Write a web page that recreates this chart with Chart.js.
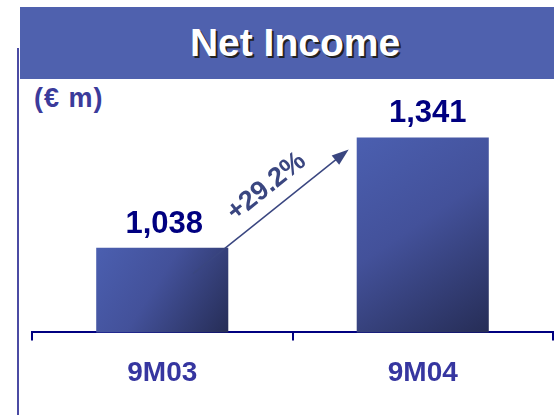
<!DOCTYPE html>
<html>
<head>
<meta charset="utf-8">
<script src="https://cdn.jsdelivr.net/npm/chart.js@4.4.1/dist/chart.umd.min.js"></script>
<style>
  body { margin: 0; background: #fff; }
  #wrap { position: relative; width: 554px; height: 415px; overflow: hidden; font-family: "Liberation Sans", Arial, sans-serif; }
  #banner { position: absolute; left: 20px; top: 7px; width: 534px; height: 72px; background: #4f61ae;
    color: #fff; font-weight: bold; font-size: 39px; text-align: center; line-height: 72px; text-indent: 16px;
    text-shadow: 2px 2px 0 #222; }
  #vline { position: absolute; left: 17px; top: 48px; width: 2px; height: 367px; background: #4b4ba3; }
  #unit { position: absolute; left: 34px; top: 83px; font-weight: bold; font-size: 27px; letter-spacing: 1px; color: #3b3b9b; }
  canvas { position: absolute; left: 0; top: 0; }
</style>
</head>
<body>
<div id="wrap">
  <div id="vline"></div>
  <div id="banner">Net Income</div>
  <div id="unit">(€ m)</div>
  <canvas id="chart" width="554" height="415"></canvas>
</div>
<script>
// data
const periods = ["9M03", "9M04"];
const netIncome = [1038, 1341];
const valueLabels = ["1,038", "1,341"];
const growthLabel = "+29.2%";

const barPct = 0.507;

function barGradient(ctx) {
  const chart = ctx.chart;
  const x = chart.scales.x, y = chart.scales.y;
  if (!x || !y || !chart.chartArea) return "#4b5eae";
  const cx = x.getPixelForValue(ctx.dataIndex);
  const half = (x.width / periods.length) * barPct / 2;
  const top = y.getPixelForValue(netIncome[ctx.dataIndex]);
  const bottom = y.getPixelForValue(y.min);
  const g = chart.ctx.createLinearGradient(cx - half, top, cx + half, bottom);
  g.addColorStop(0, "#4b5fb0");
  g.addColorStop(0.45, "#43519a");
  g.addColorStop(1, "#262d56");
  return g;
}

const annotations = {
  id: "annotations",
  afterDatasetsDraw(chart) {
    const c = chart.ctx;
    const x = chart.scales.x, y = chart.scales.y;
    const half = (x.width / periods.length) * barPct / 2;

    // value labels above bars
    c.save();
    c.font = "bold 31px 'Liberation Sans', Arial, sans-serif";
    c.fillStyle = "#000080";
    c.textAlign = "center";
    c.textBaseline = "alphabetic";
    netIncome.forEach((v, i) => {
      c.fillText(valueLabels[i], x.getPixelForValue(i) + 2 + i * 3, y.getPixelForValue(v) - 15);
    });

    // growth arrow
    const x1 = x.getPixelForValue(0) + half * 0.47;
    const y1 = y.getPixelForValue(netIncome[0]) + 26;
    const x2 = x.getPixelForValue(1) - half - 8;
    const y2 = y.getPixelForValue(netIncome[1]) + 12;
    const ang = Math.atan2(y2 - y1, x2 - x1);
    c.strokeStyle = "#3a4680";
    c.fillStyle = "#3a4680";
    c.lineWidth = 1.5;
    c.beginPath();
    c.moveTo(x1, y1);
    c.lineTo(x2 - 10 * Math.cos(ang), y2 - 10 * Math.sin(ang));
    c.stroke();
    c.beginPath();
    c.moveTo(x2, y2);
    c.lineTo(x2 - 17 * Math.cos(ang) + 6 * Math.sin(ang), y2 - 17 * Math.sin(ang) - 6 * Math.cos(ang));
    c.lineTo(x2 - 17 * Math.cos(ang) - 6 * Math.sin(ang), y2 - 17 * Math.sin(ang) + 6 * Math.cos(ang));
    c.closePath();
    c.fill();

    // growth label
    c.translate((x1 + x2) / 2, (y1 + y2) / 2);
    c.rotate(ang);
    c.font = "bold 27px 'Liberation Sans', Arial, sans-serif";
    c.textAlign = "center";
    c.textBaseline = "middle";
    c.fillStyle = "#3a4680";
    c.fillText(growthLabel, 12, -22);
    c.restore();
  }
};

new Chart(document.getElementById("chart"), {
  type: "bar",
  data: {
    labels: periods,
    datasets: [
      {
        data: netIncome,
        backgroundColor: barGradient,
        borderWidth: 0,
        barPercentage: barPct,
        categoryPercentage: 1.0,
      },
    ],
  },
  options: {
    responsive: false,
    animation: false,
    layout: { padding: { left: 32, right: 1, top: 100, bottom: 9 } },
    plugins: { legend: { display: false }, tooltip: { enabled: false }, title: { display: false } },
    scales: {
      x: {
        grid: { display: true, drawOnChartArea: false, offset: true, tickLength: 8, color: "#000080", lineWidth: 2 },
        border: { display: true, color: "#000080", width: 2 },
        ticks: { color: "#3636a0", padding: 16, font: { family: "'Liberation Sans', Arial, sans-serif", size: 28, weight: "bold" } },
      },
      y: {
        display: false,
        min: 805,
        max: 1444,
      },
    },
  },
  plugins: [annotations],
});
</script>
</body>
</html>
